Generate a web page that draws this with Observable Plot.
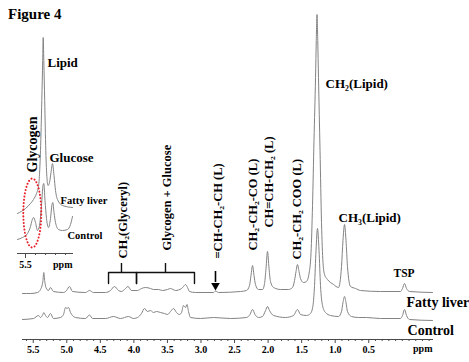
<!DOCTYPE html>
<html><head><meta charset="utf-8">
<script src="https://cdn.jsdelivr.net/npm/d3@7"></script>
<script src="https://cdn.jsdelivr.net/npm/@observablehq/plot@0.6"></script>
<style>
body{margin:0;background:#fff;}
#wrap{position:relative;width:469px;height:362px;overflow:hidden;font-family:"Liberation Serif","Times New Roman",serif;}
#wrap svg{position:absolute;left:0;top:0;}
#title{position:absolute;left:8px;top:7px;font-weight:bold;font-size:15px;line-height:15px;color:#000;}
</style></head><body>
<div id="wrap"><div id="title">Figure 4</div></div>
<script>
// ---------- main spectra (ppm, intensity relative to own baseline) ----------
const fattyPpm = [5.66,5.541,5.436,5.392,5.357,5.343,5.328,5.310,5.273,5.243,5.198,5.049,5.004,4.960,4.915,4.721,4.661,4.602,4.423,4.349,4.289,4.229,4.185,4.140,4.088,4.036,3.946,3.887,3.827,3.752,3.708,3.633,3.574,3.499,3.454,3.380,3.290,3.261,3.231,3.201,3.171,3.082,2.813,2.784,2.739,2.411,2.322,2.277,2.255,2.232,2.210,2.188,2.143,2.083,2.053,2.031,2.009,1.986,1.964,1.919,1.815,1.696,1.636,1.606,1.584,1.562,1.539,1.517,1.472,1.428,1.390,1.360,1.338,1.316,1.293,1.282,1.271,1.260,1.249,1.226,1.204,1.182,1.159,1.115,1.025,0.951,0.906,0.884,0.861,0.839,0.817,0.772,0.697,0.623,0.325,0.027,-0.003,-0.033,-0.063,-0.108,-0.45];
const fattyInt = [-1,-1,0,3,11,20,11,5,2,5,1,0,2,6,1,0,2,0,0,2,6,2,1,3,6,2,2,4,5,4,3,3,2,3,4,2,4,6,8,5,1,0,0,1.5,0,1,2,7,17,27,17,8,3,3,9,24,41,24,11,5,3,3,5,12,21,28,21,14,10,11,19,40,87,152,215,252,278,252,215,142,70,30,18,13,8,5,26,52,68,52,26,6,4,2,1,1,4,9,4,1,0];
const controlPpm = [5.66,5.496,5.422,5.392,5.357,5.343,5.317,5.287,5.243,5.198,5.094,5.049,5.019,4.997,4.974,4.945,4.915,4.870,4.721,4.661,4.617,4.423,4.304,4.199,4.080,4.006,3.946,3.887,3.842,3.797,3.752,3.708,3.663,3.603,3.544,3.499,3.454,3.410,3.365,3.320,3.290,3.261,3.231,3.208,3.186,3.156,3.007,2.813,2.560,2.322,2.270,2.232,2.195,2.143,2.083,2.038,2.009,1.979,1.919,1.741,1.621,1.562,1.517,1.428,1.368,1.331,1.308,1.286,1.264,1.241,1.219,1.189,1.145,1.070,0.951,0.906,0.884,0.861,0.839,0.817,0.757,0.653,0.534,0.325,0.027,-0.003,-0.033,-0.063,-0.108,-0.45];
const controlInt = [-1,0,3,1,4,6,3,1,5,0,1,4,11,10,11,6,3,1,0,3.5,0,0,2,0,2,0,1,5,10,7,8,6,7,6,5,4,7,10,6,4,6,13,11,14,7,1,0,1,0,1,4,9,4,1,2,8,12,8,3,1,3,9,4,3,5,13,33,68,90,68,33,13,6,3,2,7,16,22,16,7,2,1,1,0,0,3,9,3,-1,-2];
const spectrumNames = ["Fatty liver", "Control"];
const spectrumOffsets = [26, 0];

// ---------- inset (5.6 - 5.0 ppm) ----------
const insetFattyPpm = [5.58,5.50,5.45,5.42,5.39,5.37,5.35,5.337,5.328,5.323,5.317,5.308,5.297,5.285,5.275,5.26,5.245,5.23,5.215,5.20,5.18,5.13,5.03];
const insetFattyInt = [0,5,10,14,20,27,63,113,153,176,153,113,63,35,28,31,41,50,38,23,14,8,6];
const insetControlPpm = [5.58,5.53,5.48,5.45,5.435,5.42,5.40,5.38,5.36,5.34,5.325,5.317,5.305,5.29,5.27,5.25,5.235,5.227,5.215,5.20,5.17,5.13,5.08,5.05,5.03];
const insetControlInt = [1,3,7,14,20,23,18,10,15,35,55,57,40,22,13,22,36,38,28,18,11,10,11,16,24];
const insetOffsets = [27, 0];

// ---------- axes ----------
const majorTicks = [5.5,5.0,4.5,4.0,3.5,3.0,2.5,2.0,1.5,1.0,0.5];
const majorLabels = ["5.5","5.0","4.5","4.0","3.5","3.0","2.5","2.0","1.5","1.0","0.5"];
const minorTicks = d3.range(-4, 57).map(i => i / 10).filter(v => !majorTicks.some(m => Math.abs(m - v) < 1e-9));
const insetMajorTicks = [5.5];
const insetMajorLabels = ["5.5"];
const insetMinorTicks = [5.4, 5.3, 5.2, 5.1];

// ---------- labels ----------
const mainLabelText = ["CH₂(Lipid)", "CH₃(Lipid)", "TSP", "Fatty liver", "Control"];
const mainLabelPpm = [1.144, 0.951, 0.131, -0.063, -0.078];
const mainLabelInt = [235, 101, 45, 16, -12];
const mainLabelSize = [13, 13, 11.5, 14, 14];
const rotLabelText = ["CH₂(Glyceryl)", "Glycogen + Glucose", "=CH-CH₂-CH (L)", "CH₂-CH₂-CO (L)", "CH=CH-CH₂ (L)", "CH₂-CH₂ COO (L)"];
const rotLabelPpm = [4.155, 3.50, 2.754, 2.232, 1.994, 1.562];
const rotLabelInt = [60, 68, 60, 68, 91, 59];
const insetLabelText = ["Lipid", "Glucose", "Fatty liver", "Control"];
const insetLabelPpm = [5.28, 5.26, 5.15, 5.08];
const insetLabelInt = [178, 83, 40, 5];
const insetLabelSize = [13, 13, 10.5, 10.5];
const glycogenLabel = {text: "Glycogen", ppm: 5.43, int: 96};

// annotations
const bracketEnds = [[4.378, 3.961], [3.961, 3.097]];
const bracketTips = [4.185, 3.529];
const bracketLevels = {bottom: 35, top: 46, tip: 55};
const arrowPpm = 2.784;
const arrowLevels = {top: 47, bottom: 36, head: 33};
const ellipseCenter = [5.432, 27.5];
const ellipseRadii = [0.09, 34.5];

// ---------- build tables ----------
const mainRows = [];
[[fattyPpm, fattyInt], [controlPpm, controlInt]].forEach(([p, v], s) => {
  p.forEach((ppm, i) => mainRows.push({series: spectrumNames[s], ppm, v: v[i] + spectrumOffsets[s]}));
});
const insetRows = [];
[[insetFattyPpm, insetFattyInt], [insetControlPpm, insetControlInt]].forEach(([p, v], s) => {
  p.forEach((ppm, i) => insetRows.push({series: spectrumNames[s], ppm, v: v[i] + insetOffsets[s]}));
});
const bracketRows = [];
bracketEnds.forEach(([l, r], b) => {
  [[l, bracketLevels.bottom], [l, bracketLevels.top], [r, bracketLevels.top], [r, bracketLevels.bottom]]
    .forEach(([ppm, v]) => bracketRows.push({b, ppm, v}));
});
const mainLabels = mainLabelText.map((t, i) => ({t, ppm: mainLabelPpm[i], v: mainLabelInt[i], s: mainLabelSize[i]}));
const rotLabels = rotLabelText.map((t, i) => ({t, ppm: rotLabelPpm[i], v: rotLabelInt[i]}));
const insetLabels = insetLabelText.map((t, i) => ({t, ppm: insetLabelPpm[i], v: insetLabelInt[i], s: insetLabelSize[i]}));
const ellipseRows = d3.range(0, 73).map(k => {
  const a = k / 72 * 2 * Math.PI;
  return {ppm: ellipseCenter[0] + ellipseRadii[0] * Math.cos(a), v: ellipseCenter[1] + ellipseRadii[1] * Math.sin(a)};
});
const majorMap = new Map(majorTicks.map((t, i) => [t, majorLabels[i]]));
const insetMap = new Map(insetMajorTicks.map((t, i) => [t, insetMajorLabels[i]]));

const lineColor = "#838383";
const axisColor = "#4a4a4a";
const baseStyle = {fontFamily: "'Liberation Serif', 'Times New Roman', serif", fontSize: "10px", fontWeight: "bold", background: "transparent", overflow: "visible", color: "#000"};

const main = Plot.plot({
  width: 469, height: 362,
  marginLeft: 22, marginRight: 37, marginTop: 0, marginBottom: 23,
  style: baseStyle,
  x: {domain: [5.66, -0.45]},
  y: {domain: [0, 304], range: [318, 14], axis: null},
  marks: [
    Plot.frame({anchor: "bottom", stroke: axisColor}),
    Plot.axisX({ticks: minorTicks, tickSize: 2, tickFormat: () => "", label: null, stroke: axisColor}),
    Plot.axisX({ticks: majorTicks, tickSize: 4, tickPadding: 2, tickFormat: d => majorMap.get(d), label: null, stroke: axisColor, fontSize: 10, fontWeight: "bold"}),
    Plot.text(["ppm"], {frameAnchor: "bottom-right", dy: 12, textAnchor: "end", fontSize: 10, fontWeight: "bold"}),
    Plot.line(mainRows, {x: "ppm", y: "v", z: "series", stroke: lineColor, strokeWidth: 1, curve: "monotone-x"}),
    Plot.line(bracketRows, {x: "ppm", y: "v", z: "b", stroke: "#111", strokeWidth: 1.4}),
    Plot.ruleX(bracketTips, {x: d => d, y1: bracketLevels.top, y2: bracketLevels.tip, stroke: "#111", strokeWidth: 1.4}),
    Plot.ruleX([arrowPpm], {x: d => d, y1: arrowLevels.top, y2: arrowLevels.bottom, stroke: "#000", strokeWidth: 1.6}),
    Plot.dot([arrowPpm], {x: d => d, y: arrowLevels.head, symbol: "triangle", r: 3.2, rotate: 180, fill: "#000", stroke: "none"}),
    Plot.text(mainLabels, {x: "ppm", y: "v", text: "t", fontSize: d => d.s, textAnchor: "start", fontWeight: "bold", fill: "#000"}),
    Plot.text(rotLabels, {x: "ppm", y: "v", text: "t", rotate: -90, fontSize: 12.5, textAnchor: "start", fontWeight: "bold", fill: "#000"})
  ]
});
document.getElementById("wrap").appendChild(main);

const inset = Plot.plot({
  width: 115, height: 275,
  marginLeft: 17, marginRight: 43, marginTop: 0, marginBottom: 22,
  style: baseStyle,
  x: {domain: [5.58, 5.03]},
  y: {domain: [0, 230], range: [240, 10], axis: null},
  marks: [
    Plot.frame({anchor: "bottom", stroke: axisColor}),
    Plot.axisX({ticks: insetMinorTicks, tickSize: 2, tickFormat: () => "", label: null, stroke: axisColor}),
    Plot.axisX({ticks: insetMajorTicks, tickSize: 5, tickPadding: 2, tickFormat: d => insetMap.get(d), label: null, stroke: axisColor, fontSize: 10, fontWeight: "bold"}),
    Plot.text(["ppm"], {frameAnchor: "bottom-right", dy: 14, textAnchor: "end", fontSize: 10, fontWeight: "bold"}),
    Plot.line(insetRows, {x: "ppm", y: "v", z: "series", stroke: lineColor, strokeWidth: 1, curve: "monotone-x"}),
    Plot.line(ellipseRows, {x: "ppm", y: "v", stroke: "#e8202a", strokeWidth: 2, strokeDasharray: "0.1,3.2", strokeLinecap: "round", curve: "linear"}),
    Plot.text(insetLabels, {x: "ppm", y: "v", text: "t", fontSize: d => d.s, textAnchor: "start", fontWeight: "bold", fill: "#000"}),
    Plot.text([glycogenLabel], {x: "ppm", y: "int", text: "text", rotate: -90, fontSize: 14, textAnchor: "middle", fontWeight: "bold", fill: "#000"})
  ]
});
document.getElementById("wrap").appendChild(inset);
</script>
</body></html>
